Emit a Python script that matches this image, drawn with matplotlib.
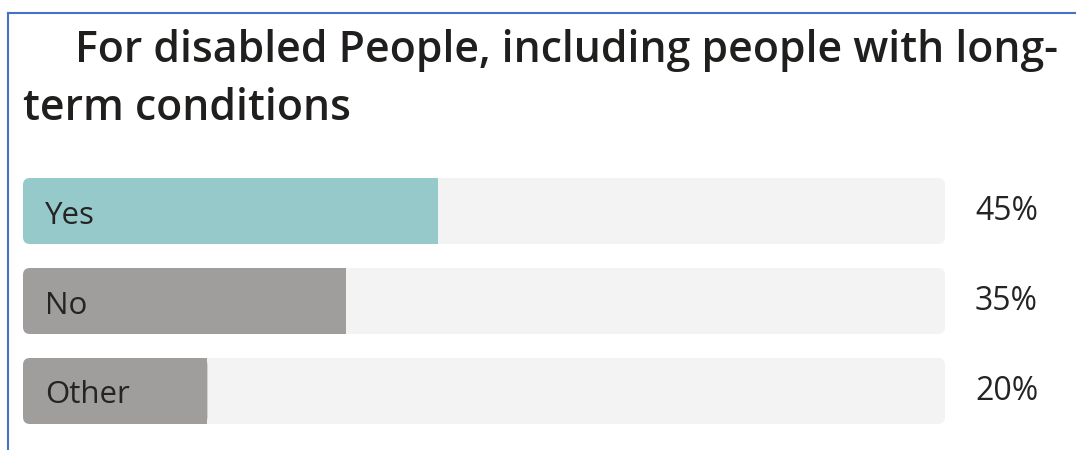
import matplotlib.pyplot as plt
from matplotlib.patches import FancyBboxPatch
from matplotlib.lines import Line2D

# poll results
answers = ['Yes', 'No', 'Other']
shares = [45, 35, 20]
fill_colors = ['#96c9ca', '#a09e9c', '#a09e9c']

title_line1 = 'For disabled People, including people with long-'
title_line2 = 'term conditions'

W, H = 1076, 450
plt.rcParams['font.family'] = ['Open Sans', 'DejaVu Sans']
text_color = '#252423'
track_color = '#f3f3f3'

fig = plt.figure(figsize=(W / 100, H / 100), dpi=100)
fig.patch.set_facecolor('white')

# blue frame on top and left
fig.add_artist(Line2D([8 / W, 1], [1 - 13 / H, 1 - 13 / H], color='#4472c4', lw=1.5))
fig.add_artist(Line2D([8 / W, 8 / W], [0, 1 - 13 / H], color='#4472c4', lw=1.5))

fig.text(75 / W, 1 - 62 / H, title_line1, fontsize=30.8, weight='semibold',
         color='#201f1e', va='baseline', ha='left')
fig.text(23 / W, 1 - 120 / H, title_line2, fontsize=30.8, weight='semibold',
         color='#201f1e', va='baseline', ha='left')

# bar area
left_px, right_px, top_px, bot_px = 23, 945, 178, 424
ax = fig.add_axes([left_px / W, 1 - bot_px / H, (right_px - left_px) / W, (bot_px - top_px) / H])
ax.set_axis_off()
bar_h = 66 / 90
ax.set_xlim(0, 100)
ax.set_ylim(len(answers) - 1 + bar_h / 2, -bar_h / 2)

xu = 100 / (right_px - left_px)
yu = (len(answers) - 1 + bar_h) / (bot_px - top_px)
aspect = yu / xu
r = 7 * xu

for i, (name, val, col) in enumerate(zip(answers, shares, fill_colors)):
    y0 = i - bar_h / 2
    ax.add_patch(FancyBboxPatch((0, y0), 100, bar_h,
                                boxstyle=f'round,pad=0,rounding_size={r}',
                                mutation_aspect=aspect, fc=track_color, ec='none'))
    ax.add_patch(FancyBboxPatch((0, y0), val, bar_h,
                                boxstyle=f'round,pad=0,rounding_size={r}',
                                mutation_aspect=aspect, fc=col, ec='none'))
    # square off the right end of the filled part
    ax.add_patch(plt.Rectangle((val - 2 * r, y0), 2 * r, bar_h, fc=col, ec='none'))
    ax.text(22 * xu, i + 0.05, name, fontsize=22.5, color=text_color, va='center', ha='left')
    ax.text(100 + 30 * xu, i, f'{val}%', fontsize=23, color=text_color,
            va='center', ha='left', clip_on=False)

fig.savefig('out.png', dpi=100, facecolor='white')
